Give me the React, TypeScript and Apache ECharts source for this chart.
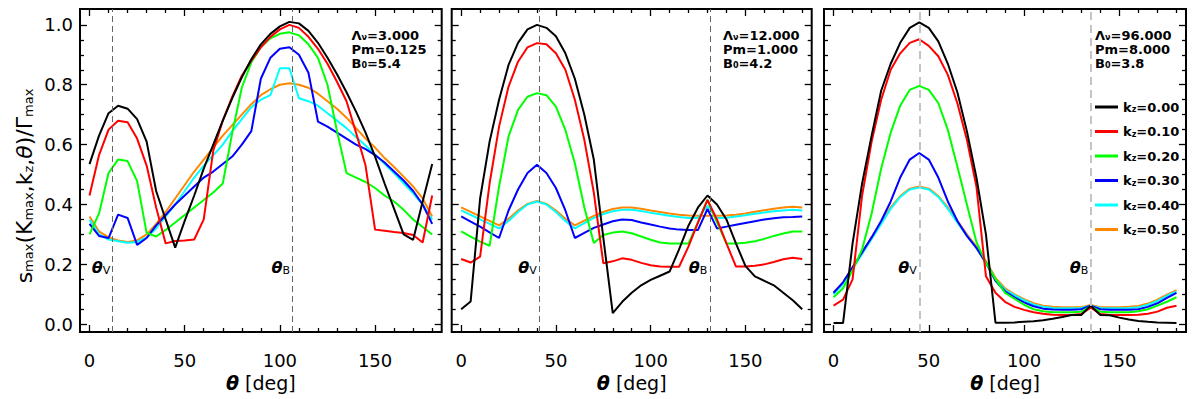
import React, { useEffect, useRef } from 'react';
import * as echarts from 'echarts';

// ---------------- data ----------------
const theta = [0, 5, 10, 15, 20, 25, 30, 35, 40, 45, 50, 55, 60, 65, 70, 75, 80, 85, 90, 95, 100, 105, 110, 115, 120, 125, 130, 135, 140, 145, 150, 155, 160, 165, 170, 175, 180];

const seriesNames = ['k_z=0.00', 'k_z=0.10', 'k_z=0.20', 'k_z=0.30', 'k_z=0.40', 'k_z=0.50'];
const seriesColors = ['#000000', '#ff0000', '#00ff00', '#0000ff', '#00ffff', '#ff8800'];

// Left panel: Λν=3.000, Pm=0.125, B0=5.4
const leftK000 = [0.535, 0.63, 0.705, 0.73, 0.72, 0.685, 0.61, 0.445, 0.35, 0.256, 0.345, 0.43, 0.52, 0.60, 0.68, 0.755, 0.825, 0.885, 0.935, 0.97, 0.995, 1.01, 1.005, 0.98, 0.94, 0.89, 0.835, 0.775, 0.71, 0.64, 0.56, 0.47, 0.385, 0.30, 0.282, 0.41, 0.535];
const leftK010 = [0.43, 0.565, 0.65, 0.68, 0.675, 0.62, 0.53, 0.39, 0.27, 0.278, 0.28, 0.283, 0.35, 0.58, 0.68, 0.76, 0.83, 0.88, 0.925, 0.96, 0.985, 1.0, 0.99, 0.96, 0.92, 0.87, 0.81, 0.745, 0.64, 0.53, 0.316, 0.312, 0.308, 0.305, 0.298, 0.273, 0.43];
const leftK020 = [0.30, 0.37, 0.505, 0.55, 0.545, 0.478, 0.305, 0.293, 0.315, 0.34, 0.365, 0.39, 0.415, 0.44, 0.47, 0.64, 0.79, 0.875, 0.925, 0.955, 0.97, 0.975, 0.965, 0.935, 0.89, 0.80, 0.645, 0.505, 0.49, 0.475, 0.455, 0.43, 0.41, 0.382, 0.35, 0.325, 0.30];
const leftK030 = [0.335, 0.295, 0.288, 0.366, 0.355, 0.265, 0.288, 0.33, 0.365, 0.40, 0.43, 0.46, 0.49, 0.51, 0.535, 0.56, 0.60, 0.645, 0.82, 0.89, 0.92, 0.925, 0.90, 0.84, 0.677, 0.66, 0.64, 0.62, 0.60, 0.585, 0.565, 0.54, 0.51, 0.48, 0.445, 0.40, 0.335];
const leftK040 = [0.35, 0.30, 0.283, 0.277, 0.272, 0.275, 0.29, 0.32, 0.36, 0.40, 0.445, 0.49, 0.53, 0.565, 0.60, 0.645, 0.685, 0.725, 0.75, 0.765, 0.855, 0.855, 0.755, 0.745, 0.73, 0.705, 0.68, 0.655, 0.625, 0.597, 0.567, 0.536, 0.504, 0.471, 0.437, 0.40, 0.35];
const leftK050 = [0.36, 0.31, 0.29, 0.28, 0.275, 0.28, 0.30, 0.335, 0.375, 0.42, 0.465, 0.51, 0.55, 0.59, 0.63, 0.665, 0.70, 0.735, 0.765, 0.785, 0.80, 0.805, 0.80, 0.79, 0.77, 0.745, 0.72, 0.69, 0.655, 0.62, 0.59, 0.555, 0.525, 0.493, 0.46, 0.42, 0.36];

// Middle panel: Λν=12.000, Pm=1.000, B0=4.2
const midK000 = [0.05, 0.076, 0.42, 0.61, 0.75, 0.866, 0.94, 0.985, 1.0, 0.99, 0.962, 0.905, 0.82, 0.70, 0.55, 0.29, 0.037, 0.075, 0.105, 0.13, 0.148, 0.162, 0.176, 0.25, 0.33, 0.39, 0.43, 0.40, 0.35, 0.27, 0.195, 0.16, 0.145, 0.13, 0.105, 0.08, 0.05];
const midK010 = [0.218, 0.206, 0.226, 0.47, 0.66, 0.794, 0.877, 0.925, 0.939, 0.935, 0.905, 0.85, 0.75, 0.616, 0.44, 0.204, 0.21, 0.22, 0.215, 0.205, 0.197, 0.193, 0.192, 0.192, 0.26, 0.34, 0.415, 0.35, 0.27, 0.193, 0.193, 0.195, 0.20, 0.208, 0.217, 0.222, 0.218];
const midK020 = [0.31, 0.293, 0.276, 0.262, 0.46, 0.627, 0.716, 0.76, 0.772, 0.765, 0.727, 0.649, 0.538, 0.39, 0.271, 0.298, 0.306, 0.31, 0.304, 0.293, 0.282, 0.273, 0.27, 0.27, 0.27, 0.34, 0.415, 0.34, 0.27, 0.27, 0.272, 0.277, 0.285, 0.295, 0.303, 0.31, 0.31];
const midK030 = [0.36, 0.343, 0.326, 0.307, 0.288, 0.38, 0.45, 0.505, 0.533, 0.505, 0.455, 0.38, 0.288, 0.305, 0.322, 0.333, 0.344, 0.35, 0.348, 0.34, 0.333, 0.326, 0.32, 0.316, 0.315, 0.315, 0.385, 0.32, 0.326, 0.332, 0.338, 0.344, 0.35, 0.354, 0.357, 0.358, 0.36];
const midK040 = [0.38, 0.365, 0.35, 0.335, 0.32, 0.345, 0.375, 0.40, 0.41, 0.40, 0.375, 0.345, 0.32, 0.338, 0.355, 0.368, 0.377, 0.382, 0.382, 0.378, 0.372, 0.367, 0.362, 0.358, 0.355, 0.355, 0.395, 0.355, 0.356, 0.36, 0.364, 0.369, 0.373, 0.377, 0.38, 0.382, 0.38];
const midK050 = [0.39, 0.375, 0.36, 0.345, 0.33, 0.352, 0.38, 0.402, 0.412, 0.402, 0.38, 0.352, 0.33, 0.346, 0.362, 0.375, 0.385, 0.39, 0.39, 0.386, 0.38, 0.375, 0.37, 0.366, 0.363, 0.362, 0.362, 0.362, 0.363, 0.366, 0.37, 0.376, 0.381, 0.386, 0.39, 0.392, 0.39];

// Right panel: Λν=96.000, Pm=8.000, B0=3.8
const rightK000 = [0.004, 0.004, 0.27, 0.47, 0.63, 0.78, 0.87, 0.94, 0.99, 1.008, 0.99, 0.945, 0.87, 0.775, 0.645, 0.49, 0.30, 0.005, 0.005, 0.006, 0.008, 0.01, 0.013, 0.018, 0.024, 0.031, 0.031, 0.062, 0.031, 0.03, 0.022, 0.016, 0.011, 0.008, 0.006, 0.005, 0.004];
const rightK010 = [0.062, 0.082, 0.15, 0.43, 0.61, 0.75, 0.85, 0.905, 0.94, 0.952, 0.93, 0.895, 0.833, 0.738, 0.616, 0.46, 0.16, 0.105, 0.075, 0.058, 0.048, 0.04, 0.035, 0.032, 0.031, 0.031, 0.034, 0.055, 0.034, 0.031, 0.031, 0.031, 0.032, 0.035, 0.042, 0.055, 0.062];
const rightK020 = [0.09, 0.12, 0.18, 0.25, 0.37, 0.52, 0.64, 0.73, 0.783, 0.796, 0.783, 0.739, 0.649, 0.527, 0.40, 0.275, 0.205, 0.15, 0.105, 0.085, 0.065, 0.05, 0.043, 0.04, 0.04, 0.04, 0.042, 0.06, 0.042, 0.04, 0.04, 0.04, 0.043, 0.05, 0.062, 0.075, 0.09];
const rightK030 = [0.105, 0.14, 0.19, 0.24, 0.29, 0.345, 0.41, 0.49, 0.55, 0.572, 0.55, 0.49, 0.41, 0.345, 0.295, 0.255, 0.205, 0.145, 0.11, 0.09, 0.073, 0.06, 0.052, 0.049, 0.048, 0.048, 0.05, 0.062, 0.05, 0.048, 0.048, 0.048, 0.05, 0.058, 0.07, 0.088, 0.105];
const rightK040 = [0.10, 0.135, 0.185, 0.235, 0.285, 0.335, 0.385, 0.425, 0.45, 0.457, 0.45, 0.425, 0.385, 0.34, 0.295, 0.255, 0.205, 0.15, 0.115, 0.097, 0.08, 0.066, 0.058, 0.054, 0.053, 0.053, 0.054, 0.062, 0.054, 0.053, 0.053, 0.054, 0.057, 0.065, 0.078, 0.095, 0.11];
const rightK050 = [0.105, 0.14, 0.19, 0.24, 0.29, 0.34, 0.39, 0.428, 0.453, 0.46, 0.453, 0.428, 0.39, 0.345, 0.30, 0.26, 0.21, 0.155, 0.12, 0.10, 0.084, 0.07, 0.062, 0.058, 0.057, 0.057, 0.057, 0.064, 0.057, 0.057, 0.057, 0.058, 0.061, 0.069, 0.082, 0.099, 0.114];

const panelSeries = [
  [leftK000, leftK010, leftK020, leftK030, leftK040, leftK050],
  [midK000, midK010, midK020, midK030, midK040, midK050],
  [rightK000, rightK010, rightK020, rightK030, rightK040, rightK050],
];

const thetaV = [12.2, 41.2, 45];
const thetaB = [106.7, 131.2, 135];
const lambdaNu = ['3.000', '12.000', '96.000'];
const pmValues = ['0.125', '1.000', '8.000'];
const b0Values = ['5.4', '4.2', '3.8'];

const xMajorTicks = [0, 50, 100, 150];
const xMinorTicks = [10, 20, 30, 40, 60, 70, 80, 90, 110, 120, 130, 140, 160, 170, 180];
const yMajorTicks = [0, 0.2, 0.4, 0.6, 0.8, 1.0];
const yMinorTicks = [0.05, 0.1, 0.15, 0.25, 0.3, 0.35, 0.45, 0.5, 0.55, 0.65, 0.7, 0.75, 0.85, 0.9, 0.95];

// ---------------- layout / style ----------------
const FONT = 'DejaVu Sans';
const gridBoxes = [
  { left: 80, top: 9, width: 361.7, height: 323 },
  { left: 451.7, top: 9, width: 360, height: 323 },
  { left: 824, top: 9, width: 362, height: 323 },
];
const annX = [351.5, 723, 1095];
const X_MIN = -5, X_MAX = 185, Y_MIN = -0.026, Y_MAX = 1.053;

function tickStyle(len: number) {
  return { show: true, inside: true, length: len, lineStyle: { color: '#000', width: 1.3 } };
}

function buildXAxes(g: number) {
  const base: any = {
    type: 'value', gridIndex: g, min: X_MIN, max: X_MAX,
    splitLine: { show: false }, axisLine: { show: false, onZero: false },
    minorTick: { show: false }, axisPointer: { show: false },
  };
  return [
    {
      ...base, position: 'bottom',
      axisTick: { ...tickStyle(7), customValues: xMajorTicks },
      axisLabel: { show: true, customValues: xMajorTicks, margin: 19, fontSize: 18, fontFamily: FONT, color: '#000' },
      name: '{t|θ} [deg]', nameLocation: 'middle', nameGap: 41,
      nameTextStyle: {
        fontSize: 19, fontFamily: FONT, color: '#000',
        rich: { t: { fontSize: 19, fontFamily: FONT, fontStyle: 'italic', fontWeight: 'bold', color: '#000' } },
      },
    },
    { ...base, position: 'bottom', axisTick: { ...tickStyle(4), customValues: xMinorTicks }, axisLabel: { show: false } },
    { ...base, position: 'top', axisTick: { ...tickStyle(7), customValues: xMajorTicks }, axisLabel: { show: false } },
    { ...base, position: 'top', axisTick: { ...tickStyle(4), customValues: xMinorTicks }, axisLabel: { show: false } },
  ];
}

function buildYAxes(g: number) {
  const base: any = {
    type: 'value', gridIndex: g, min: Y_MIN, max: Y_MAX,
    splitLine: { show: false }, axisLine: { show: false, onZero: false },
    minorTick: { show: false }, axisPointer: { show: false },
  };
  return [
    {
      ...base, position: 'left',
      axisTick: { ...tickStyle(7), customValues: yMajorTicks },
      axisLabel: {
        show: g === 0, customValues: yMajorTicks, margin: 7, fontSize: 18, fontFamily: FONT, color: '#000',
        formatter: (v: number) => v.toFixed(1),
      },
    },
    { ...base, position: 'left', axisTick: { ...tickStyle(4), customValues: yMinorTicks }, axisLabel: { show: false } },
    { ...base, position: 'right', axisTick: { ...tickStyle(7), customValues: yMajorTicks }, axisLabel: { show: false } },
    { ...base, position: 'right', axisTick: { ...tickStyle(4), customValues: yMinorTicks }, axisLabel: { show: false } },
  ];
}

function buildSeries() {
  const out: any[] = [];
  for (let g = 0; g < 3; g++) {
    const order = [5, 4, 3, 2, 1, 0];
    order.forEach((k, idx) => {
      const s: any = {
        type: 'line', name: seriesNames[k], xAxisIndex: g * 4, yAxisIndex: g * 4,
        data: theta.map((t, i) => [t, panelSeries[g][k][i]]),
        showSymbol: false, symbol: 'none', silent: true,
        lineStyle: { color: seriesColors[k], width: 2 },
        itemStyle: { color: seriesColors[k] },
        emphasis: { disabled: true },
      };
      if (idx === 0) {
        const light = g === 2;
        s.markLine = {
          silent: true, symbol: ['none', 'none'], label: { show: false },
          lineStyle: light
            ? { color: '#c4c4c4', width: 2, type: [8, 5] }
            : { color: '#666666', width: 1, type: [6, 4] },
          emphasis: { disabled: true },
          data: [{ xAxis: thetaV[g] }, { xAxis: thetaB[g] }],
        };
        const lab = (sub: string) => ({
          show: true, position: 'left', distance: 2,
          formatter: `{t|θ}{s|${sub}}`,
          rich: {
            t: { fontSize: 16, lineHeight: 16, verticalAlign: 'top', padding: [0, 0, 3, 0], fontFamily: FONT, fontStyle: 'italic', fontWeight: 'bold', color: '#000' },
            s: { fontSize: 11, lineHeight: 11, verticalAlign: 'bottom', fontFamily: FONT, color: '#000' },
          },
        });
        s.markPoint = {
          silent: true, symbol: 'circle', symbolSize: 1,
          itemStyle: { color: 'rgba(0,0,0,0)' },
          data: [
            { coord: [thetaV[g], 0.188], label: lab('V') },
            { coord: [thetaB[g], 0.188], label: lab('B') },
          ],
        };
      }
      out.push(s);
    });
  }
  return out;
}

const annRich = {
  m: { fontSize: 13, lineHeight: 12, verticalAlign: 'top', padding: [0, 0, 2, 0], fontFamily: FONT, fontWeight: 'bold', fill: '#000' },
  s: { fontSize: 8, lineHeight: 8, verticalAlign: 'bottom', fontFamily: FONT, fontWeight: 'bold', fill: '#000' },
};

function buildGraphics() {
  const els: any[] = [];
  for (let g = 0; g < 3; g++) {
    const lines = [
      `{m|Λ}{s|ν}{m|=${lambdaNu[g]}}`,
      `{m|Pm=${pmValues[g]}}`,
      `{m|B}{s|0}{m|=${b0Values[g]}}`,
    ];
    const ys = [35, 49, 63];
    lines.forEach((txt, i) => {
      els.push({
        type: 'text', x: annX[g], y: ys[i], silent: true,
        style: { text: txt, rich: annRich, align: 'left', verticalAlign: 'middle', fill: '#000' },
      });
    });
  }
  const tRich: any = {
    m: { fontSize: 22, lineHeight: 22, verticalAlign: 'top', padding: [0, 0, 4, 0], fontFamily: FONT, fill: '#000' },
    s: { fontSize: 13, lineHeight: 13, verticalAlign: 'bottom', fontFamily: FONT, fill: '#000' },
    t: { fontSize: 22, lineHeight: 22, verticalAlign: 'top', padding: [0, 0, 4, 0], fontFamily: FONT, fontStyle: 'italic', fill: '#000' },
  };
  els.push({
    type: 'text', x: 24, y: 186, rotation: Math.PI / 2, silent: true,
    style: {
      text: '{m|s}{s|max}{m|(K}{s|max}{m|,k}{s|z}{m|,}{t|θ}{m|)/Γ}{s|max}',
      rich: tRich, align: 'center', verticalAlign: 'middle', fill: '#000',
    },
  });
  return els;
}

const legendRich = {
  k: { fontSize: 13, lineHeight: 13, verticalAlign: 'top', padding: [0, 0, 2, 0], fontFamily: FONT, fontWeight: 'bold', color: '#000' },
  z: { fontSize: 8, lineHeight: 8, verticalAlign: 'bottom', fontFamily: FONT, fontWeight: 'bold', color: '#000' },
};

export default function App() {
  const ref = useRef<HTMLDivElement>(null);
  useEffect(() => {
    if (!ref.current) return;
    document.body.style.margin = '0';
    const chart = echarts.init(ref.current, null, { renderer: 'svg' });
    const option: any = {
      animation: false,
      backgroundColor: '#ffffff',
      grid: gridBoxes.map((b) => ({ ...b, show: true, borderColor: '#000', borderWidth: 2, backgroundColor: 'rgba(0,0,0,0)', containLabel: false })),
      xAxis: [0, 1, 2].flatMap((g) => buildXAxes(g)),
      yAxis: [0, 1, 2].flatMap((g) => buildYAxes(g)),
      legend: {
        data: seriesNames, orient: 'vertical', left: 1095, top: 100.5,
        itemWidth: 23, itemHeight: 3, itemGap: 9.5, padding: 0, icon: 'rect',
        selectedMode: false,
        formatter: (name: string) => `{k|k}{z|z}{k|${name.slice(3)}}`,
        textStyle: { rich: legendRich, fontFamily: FONT, color: '#000' },
      },
      tooltip: { show: false },
      series: buildSeries(),
      graphic: buildGraphics(),
    };
    chart.setOption(option);
    return () => chart.dispose();
  }, []);
  return (
    <div style={{ position: 'fixed', left: 0, top: 0, width: 1196, height: 399, background: '#fff' }}>
      <div ref={ref} style={{ width: 1196, height: 399 }} />
    </div>
  );
}
